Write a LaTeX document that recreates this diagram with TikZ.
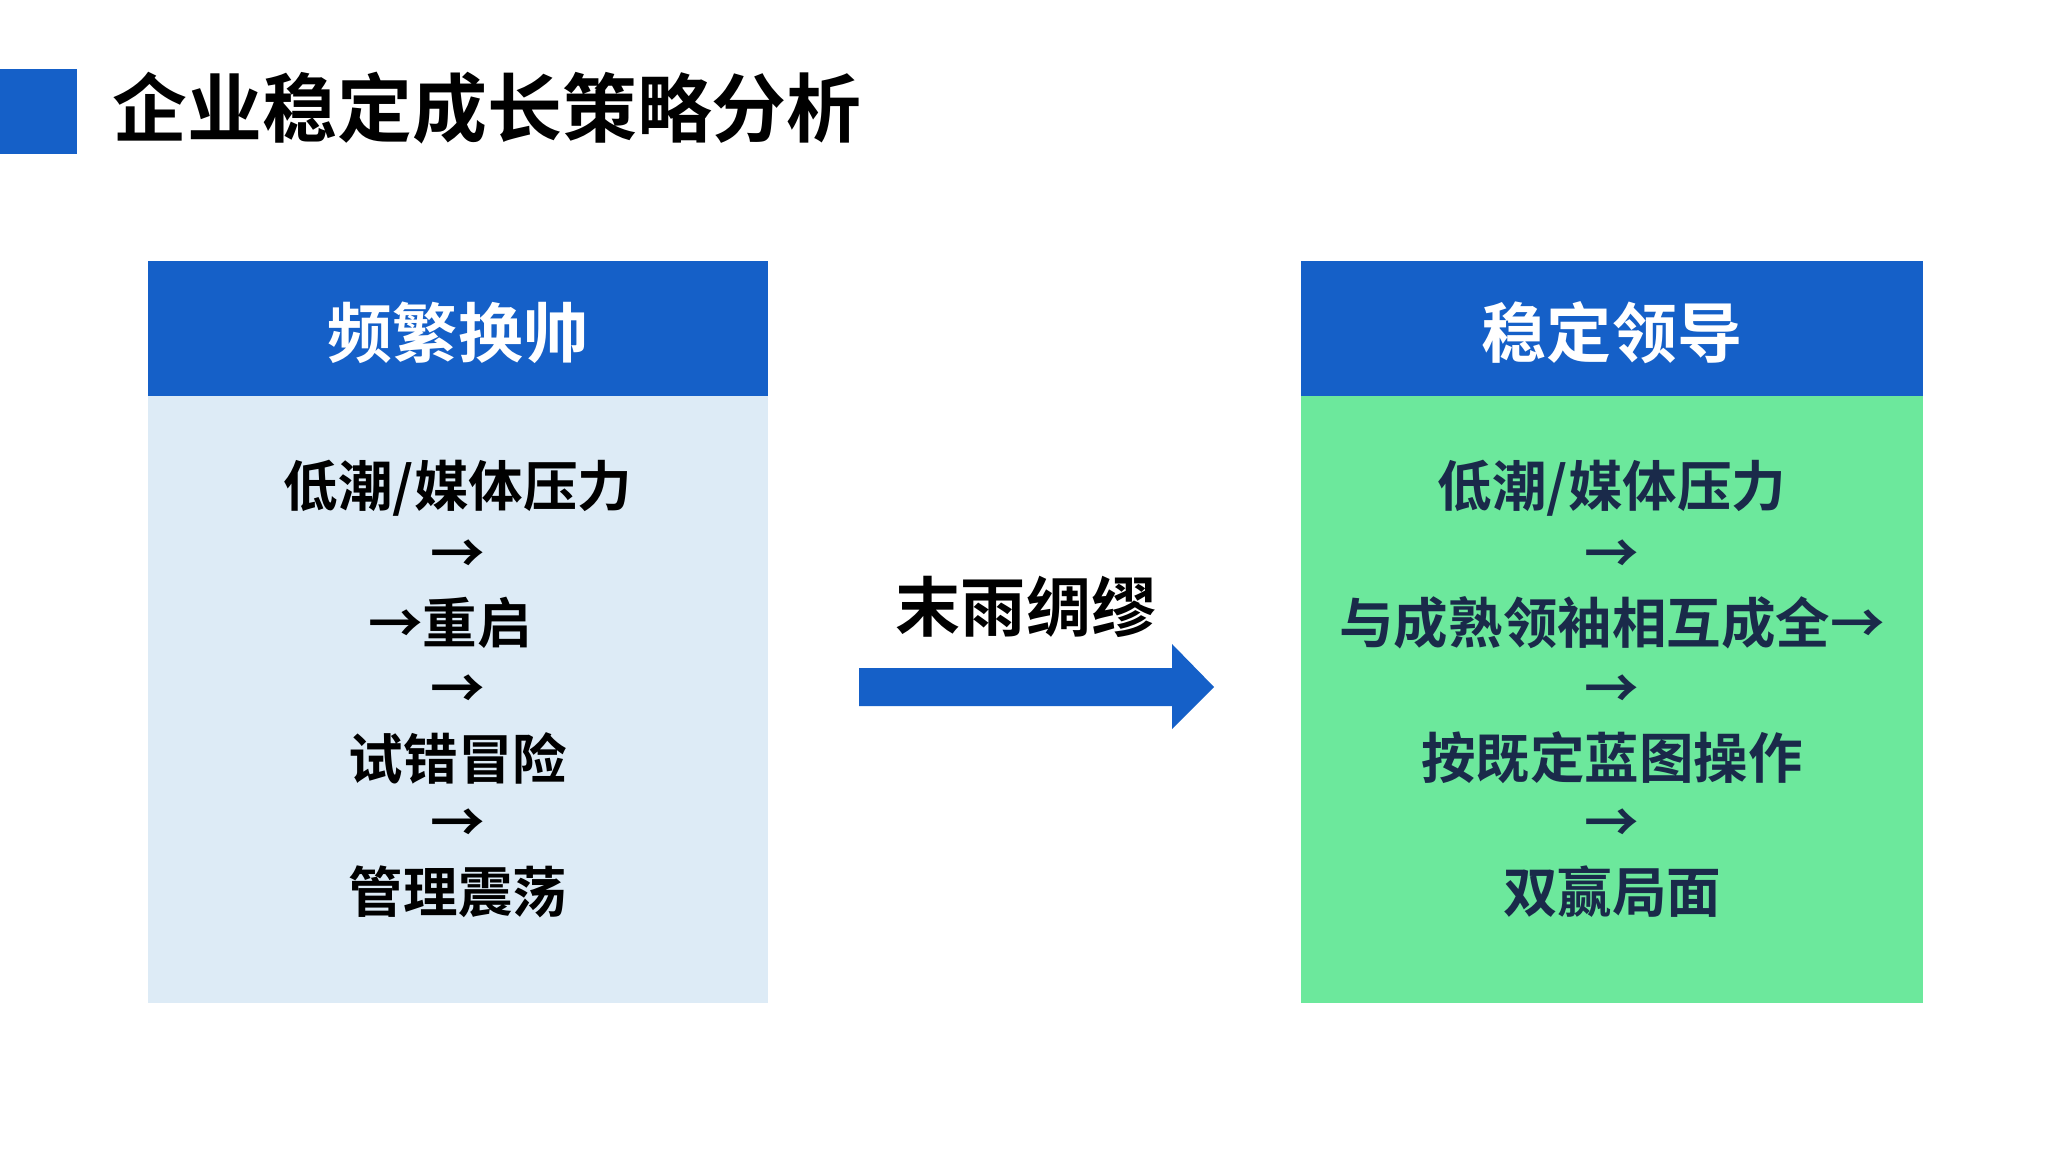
\documentclass[tikz,border=0pt]{standalone}
\usepackage{fontspec}
\newfontfamily\cjk{Noto Sans CJK SC}[BoldFont={* Bold}]
\definecolor{hblue}{HTML}{1560C8}
\definecolor{lblue}{HTML}{DDEBF6}
\definecolor{lgreen}{HTML}{6CE89C}
\definecolor{navy}{HTML}{1A2A4A}
\begin{document}
\begin{tikzpicture}[x=0.01cm,y=-0.01cm,
  body/.style={font=\cjk\bfseries\fontsize{15.5}{18}\selectfont,anchor=center},
  head/.style={font=\cjk\bfseries\fontsize{18.5}{22}\selectfont,text=white,anchor=center}]
\useasboundingbox (0,0) rectangle (2048,1152);
\fill[white] (0,0) rectangle (2048,1152);
\fill[hblue] (0,69) rectangle (77,154);
\node[font=\cjk\bfseries\fontsize{21.3}{25}\selectfont,anchor=west,inner sep=0] (title) at (112,108) {企业稳定成长策略分析};
% left
\fill[lblue] (148,396) rectangle (768,1003);
\fill[hblue] (148,261) rectangle (768,396);
\node[head] (lh) at (458,333) {频繁换帅};
\node[body] (l1) at (458,488) {低潮/媒体压力};
\node[body] (l2) at (458,557) {→};
\node[body] (l3) at (450,623) {→重启};
\node[body] (l4) at (458,692) {→};
\node[body] (l5) at (458,758) {试错冒险};
\node[body] (l6) at (458,826) {→};
\node[body] (l7) at (458,892) {管理震荡};
% right
\fill[lgreen] (1301,396) rectangle (1923,1003);
\fill[hblue] (1301,261) rectangle (1923,396);
\node[head] (rh) at (1612,333) {稳定领导};
\node[body,text=navy] (r1) at (1612,488) {低潮/媒体压力};
\node[body,text=navy] (r2) at (1612,557) {→};
\node[body,text=navy] (r3) at (1612,623) {与成熟领袖相互成全→};
\node[body,text=navy] (r4) at (1612,692) {→};
\node[body,text=navy] (r5) at (1612,758) {按既定蓝图操作};
\node[body,text=navy] (r6) at (1612,826) {→};
\node[body,text=navy] (r7) at (1612,892) {双赢局面};
% arrow
\fill[hblue] (859,668) -- (1172,668) -- (1172,644) -- (1214,687) -- (1172,729) -- (1172,706) -- (859,706) -- cycle;
\node[font=\cjk\bfseries\fontsize{18.5}{22}\selectfont] (al) at (1026,607) {末雨绸缪};
\end{tikzpicture}
\end{document}
